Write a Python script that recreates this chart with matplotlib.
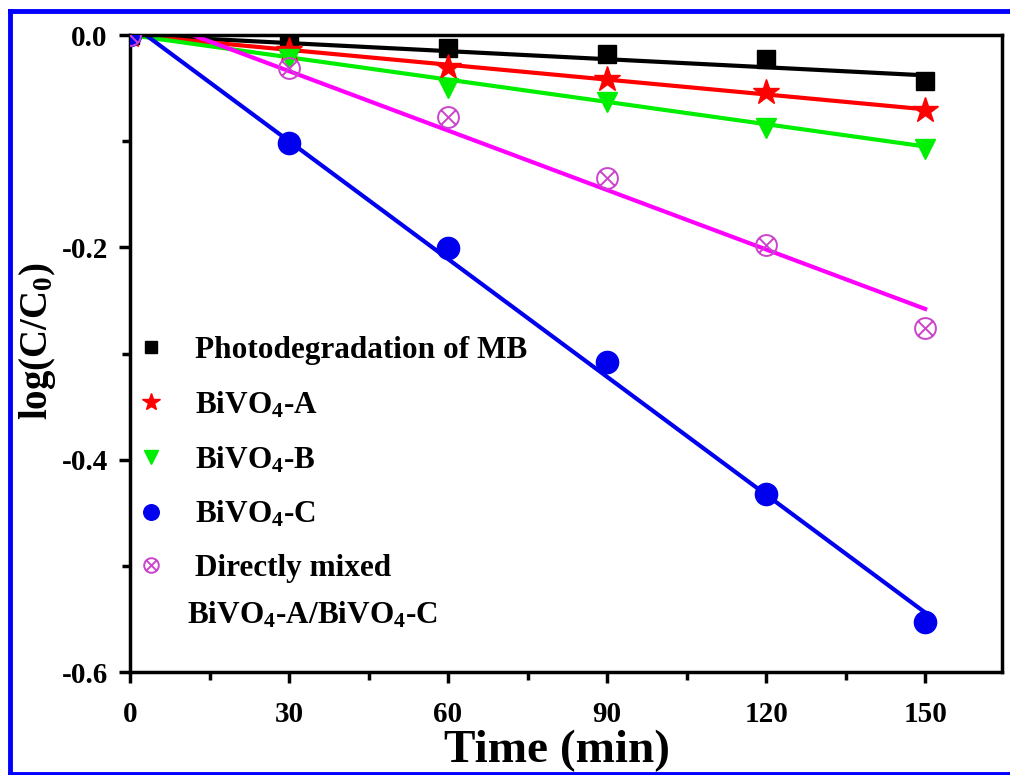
import numpy as np
import matplotlib
matplotlib.use("Agg")
import matplotlib.pyplot as plt
from matplotlib.path import Path
from matplotlib.lines import Line2D
from matplotlib.ticker import MultipleLocator

plt.rcParams['font.family'] = ['Liberation Serif', 'DejaVu Serif']
plt.rcParams['font.weight'] = 'bold'
plt.rcParams['mathtext.fontset'] = 'custom'
plt.rcParams['mathtext.rm'] = 'Liberation Serif:bold'
plt.rcParams['mathtext.it'] = 'Liberation Serif:bold'
plt.rcParams['mathtext.bf'] = 'Liberation Serif:bold'

# data
time = [0, 30, 60, 90, 120, 150]
mb = [0, -0.008, -0.012, -0.018, -0.023, -0.043]
bivo4_a = [0, -0.014, -0.030, -0.041, -0.054, -0.071]
bivo4_b = [0, -0.023, -0.050, -0.063, -0.088, -0.107]
bivo4_c = [0, -0.102, -0.201, -0.308, -0.432, -0.553]
mixed = [0, -0.031, -0.077, -0.135, -0.198, -0.276]

# linear fits (value at t=0 and t=150)
fit_t = [0, 150]
mb_fit = [0, -0.038]
a_fit = [0, -0.070]
b_fit = [0, -0.105]
c_fit = [0.011, -0.544]
mixed_fit = [0.022, -0.258]

labels = ['Photodegradation of MB', 'BiVO$_4$-A', 'BiVO$_4$-B',
          'BiVO$_4$-C', 'Directly mixed']

# circle with a cross inside
circ = Path.unit_circle()
cross = Path([(-0.707, -0.707), (0.707, 0.707), (-0.707, 0.707), (0.707, -0.707)],
             [Path.MOVETO, Path.LINETO, Path.MOVETO, Path.LINETO])
circ_x = Path.make_compound_path(circ, cross)

fig = plt.figure(figsize=(10.1, 7.75), dpi=100)
ax = fig.add_axes([130 / 1010, 1 - 672 / 775, (1002 - 130) / 1010, (672 - 35) / 775])

series = [
    (mb, mb_fit, 'black', dict(marker='s', ms=13, color='black')),
    (bivo4_a, a_fit, '#ff0000', dict(marker='*', ms=19, color='#ff0000')),
    (bivo4_b, b_fit, '#00ee00', dict(marker='v', ms=15, color='#00ee00')),
    (bivo4_c, c_fit, '#0000ee', dict(marker='o', ms=16, color='#0000ee')),
    (mixed, mixed_fit, '#ff00ff', dict(marker=circ_x, ms=15, markerfacecolor='none',
                                        markeredgecolor='#cc44cc', markeredgewidth=1.4)),
]

for vals, fit, col, mk in series:
    ax.plot(fit_t, fit, color=col, lw=3, zorder=2)

handles = []
for vals, fit, col, mk in series:
    h, = ax.plot(time, vals, linestyle='none', zorder=3, **mk)
    handles.append(h)

ax.set_xlim(0, 164.5)
ax.set_ylim(-0.6, 0.0)
ax.xaxis.set_major_locator(MultipleLocator(30))
ax.xaxis.set_minor_locator(MultipleLocator(15))
ax.yaxis.set_major_locator(MultipleLocator(0.2))
ax.yaxis.set_minor_locator(MultipleLocator(0.1))
ax.yaxis.set_major_formatter(lambda v, p: f'{v:.1f}')
ax.tick_params(which='major', direction='out', length=8, width=2.5, labelsize=21, pad=8)
ax.tick_params(axis='x', which='major', pad=13)
ax.tick_params(which='minor', direction='out', length=6, width=2.5)
ax.tick_params(top=False, right=False, which='both')
for s in ax.spines.values():
    s.set_linewidth(2.5)

ax.set_xlabel('Time (min)', fontsize=34, fontweight='bold')
ax.xaxis.set_label_coords(0.49, -0.09)
ax.set_ylabel('log(C/C$_0$)', fontsize=28, fontweight='bold')
ax.yaxis.set_label_coords(-0.082, 0.52)

ax.legend(handles, labels, loc='upper left', bbox_to_anchor=(0.006, 0.527),
          frameon=False, borderpad=0, borderaxespad=0, handlelength=1.0,
          handletextpad=0.9, labelspacing=0.78, fontsize=22.5, markerscale=0.7)
ax.text(0.065, 0.089, 'BiVO$_4$-A/BiVO$_4$-C', transform=ax.transAxes,
        fontsize=22.5, fontweight='bold', va='center', ha='left')

# blue frame around the figure
for xs, ys in [([9.5, 9.5], [10.5, 773.5]), ([9.5, 1012], [10.5, 10.5]),
               ([9.5, 1012], [773.5, 773.5])]:
    fig.add_artist(Line2D([x / 1010 for x in xs], [1 - y / 775 for y in ys],
                          color='#0000ff', lw=3.5, transform=fig.transFigure))

fig.savefig('out.png', dpi=100)
